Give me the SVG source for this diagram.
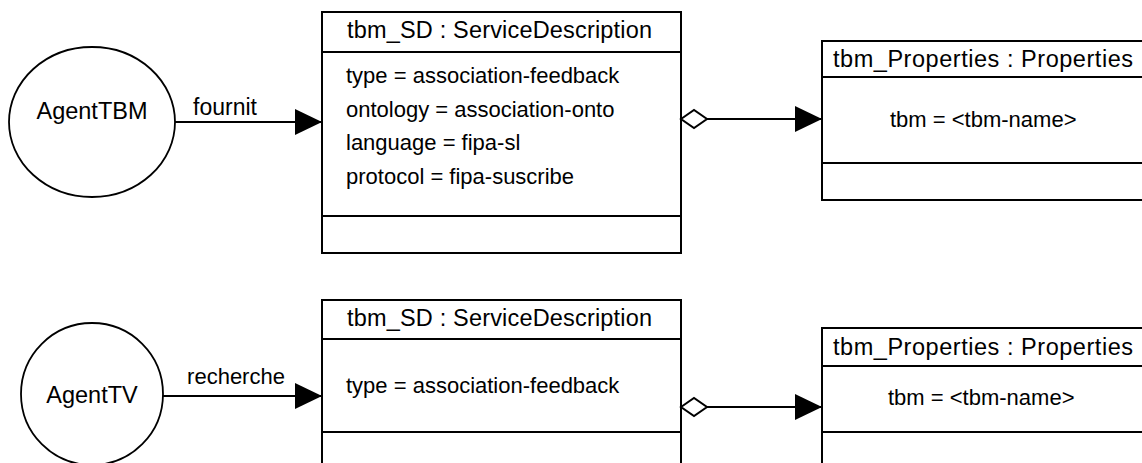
<svg xmlns="http://www.w3.org/2000/svg" width="1142" height="463" viewBox="0 0 1142 463">
<style>
text{font-family:"Liberation Sans",Arial,sans-serif;fill:#000}
.agent{font-size:23.5px;text-anchor:middle}
.hdr{font-size:23.5px}
.attr{font-size:22px}
.lbl{font-size:23px;text-anchor:middle}
.box{fill:#fff;stroke:#000;stroke-width:2}
.sep{stroke:#000;stroke-width:2}
.circ{fill:#fff;stroke:#000;stroke-width:1.8}
.conn{fill:none;stroke:#000;stroke-width:2}
</style>
<defs>
<marker id="arrow" viewBox="0 0 27 26" refX="27" refY="13" markerWidth="27" markerHeight="26" markerUnits="userSpaceOnUse" orient="auto">
<path d="M0,0 L27,13 L0,26 Z" fill="#000"/>
</marker>
<marker id="diamond" viewBox="-2 -2 30 22" refX="0" refY="9" markerWidth="30" markerHeight="22" markerUnits="userSpaceOnUse" orient="auto" overflow="visible">
<path d="M0,9 L13,0 L26,9 L13,18 Z" fill="#fff" stroke="#000" stroke-width="2"/>
</marker>
</defs>
<rect width="1142" height="463" fill="#fff"/>

<g id="agentTBM">
<ellipse class="circ" cx="92" cy="122" rx="83" ry="75"/>
<text class="agent" x="92" y="119">AgentTBM</text>
</g>

<g id="sd1">
<rect class="box" x="322" y="12" width="359" height="241"/>
<line class="sep" x1="322" y1="52" x2="681" y2="52"/>
<line class="sep" x1="322" y1="216" x2="681" y2="216"/>
<text class="hdr" x="347" y="38" textLength="305">tbm_SD : ServiceDescription</text>
<text class="attr" x="346" y="83">type = association-feedback</text>
<text class="attr" x="346" y="116.5">ontology = association-onto</text>
<text class="attr" x="346" y="150">language = fipa-sl</text>
<text class="attr" x="346" y="183.5">protocol = fipa-suscribe</text>
</g>

<g id="props1">
<rect class="box" x="822" y="41" width="340" height="159"/>
<line class="sep" x1="822" y1="77" x2="1142" y2="77"/>
<line class="sep" x1="822" y1="163" x2="1142" y2="163"/>
<text class="hdr" x="833" y="67" textLength="300">tbm_Properties : Properties</text>
<text class="attr" x="890" y="127">tbm = &lt;tbm-name&gt;</text>
</g>

<g id="agentTV">
<circle class="circ" cx="92" cy="394" r="71"/>
<text class="agent" x="92" y="403">AgentTV</text>
</g>

<g id="sd2">
<rect class="box" x="322" y="300" width="359" height="180"/>
<line class="sep" x1="322" y1="339" x2="681" y2="339"/>
<line class="sep" x1="322" y1="432" x2="681" y2="432"/>
<text class="hdr" x="347" y="326" textLength="305">tbm_SD : ServiceDescription</text>
<text class="attr" x="346" y="393">type = association-feedback</text>
</g>

<g id="props2">
<rect class="box" x="822" y="328" width="340" height="160"/>
<line class="sep" x1="822" y1="366" x2="1142" y2="366"/>
<line class="sep" x1="822" y1="432" x2="1142" y2="432"/>
<text class="hdr" x="833" y="355" textLength="300">tbm_Properties : Properties</text>
<text class="attr" x="888" y="405">tbm = &lt;tbm-name&gt;</text>
</g>

<g id="connectors">
<line class="conn" x1="175" y1="122" x2="322" y2="122" marker-end="url(#arrow)"/>
<text class="lbl" x="225" y="115">fournit</text>
<line class="conn" x1="681" y1="119" x2="822" y2="119" marker-start="url(#diamond)" marker-end="url(#arrow)"/>
<line class="conn" x1="163" y1="396" x2="322" y2="396" marker-end="url(#arrow)"/>
<text class="lbl" x="236" y="384" style="font-size:22px">recherche</text>
<line class="conn" x1="681" y1="407" x2="822" y2="407" marker-start="url(#diamond)" marker-end="url(#arrow)"/>
</g>
</svg>
